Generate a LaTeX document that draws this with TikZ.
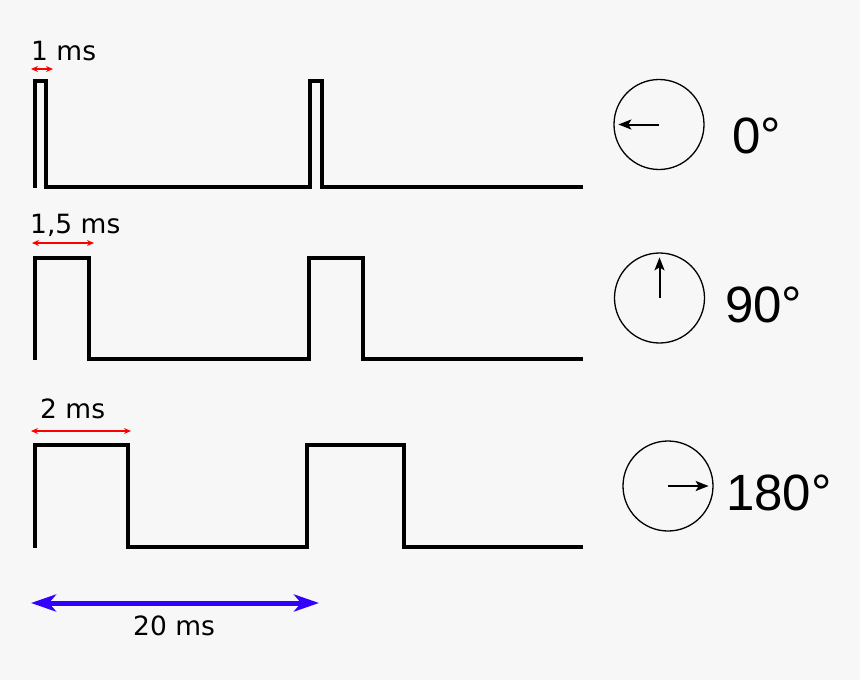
\documentclass[tikz,border=0pt]{standalone}
\usepackage{fontspec}
\setmainfont{DejaVu Sans}
\newfontfamily\degfont{Liberation Sans}
\usetikzlibrary{arrows.meta}
\definecolor{bgcol}{HTML}{F7F7F7}
\definecolor{pwmblue}{HTML}{3300FF}
\tikzset{
  wave/.style={line width=4pt, line join=miter},
  dial/.style={draw, circle, line width=1.3pt, minimum size=90pt, inner sep=0pt},
  hand/.style={line width=2pt, -{Stealth[length=13pt,width=10pt,inset=3pt]}, shorten >=5pt},
  tlabel/.style={anchor=base west, inner sep=0pt, font=\fontsize{26.5}{30}\selectfont},
  dlabel/.style={anchor=base west, inner sep=0pt, font=\degfont\fontsize{51}{60}\selectfont},
  redarr/.style={red, line width=1.3pt, {Stealth[length=7pt,width=6pt]}-{Stealth[length=7pt,width=6pt]}}
}
\begin{document}
\begin{tikzpicture}[x=1pt, y=-1pt, line cap=butt]
				\fill[bgcol] (0,0) rectangle (860,680);
				\useasboundingbox (0,0) rectangle (860,680);
				% signals
				\foreach \top/\bot/\wa/\sa/\sb in {81/187/46/309.5/322, 258/359/89/309/363, 445/547/128/307/404}
					\draw[wave] (35,\bot+1) -- (35,\top) -- (\wa,\top) -- (\wa,\bot) -- (\sa,\bot) -- (\sa,\top) -- (\sb,\top) -- (\sb,\bot) -- (583,\bot);
				% pulse widths
				\node[tlabel] (t1) at (31,60) {1 ms};
				\node[tlabel] (t2) at (30,233) {1,5 ms};
				\node[tlabel] (t3) at (40,418) {2 ms};
				\coordinate (w1a) at (31,69);  \coordinate (w1b) at (53,69);
				\coordinate (w2a) at (32,243); \coordinate (w2b) at (94,243);
				\coordinate (w3a) at (31,431); \coordinate (w3b) at (131,431);
				\foreach \i in {1,2,3} \draw[redarr] (w\i a) -- (w\i b);
				% period
				\coordinate (pa) at (31,603); \coordinate (pb) at (319,603);
				\draw[pwmblue, line width=5pt, {Stealth[length=25pt,width=17pt,inset=7pt]}-{Stealth[length=25pt,width=17pt,inset=7pt]}] (pa) -- (pb);
				\node[tlabel] (tp) at (133,635) {20 ms};
				% servo dials
				\node[dial] (c1) at (659,124.5) {};
				\node[dial] (c2) at (659.5,298) {};
				\node[dial] (c3) at (668,486) {};
				\draw[hand] (c1.center) -- (c1.west);
				\draw[hand] (c2.center) -- (c2.north);
				\draw[hand] (c3.center) -- (c3.east);
				\node[dlabel] (d1) at (732,153) {0°};
				\node[dlabel] (d2) at (725,322) {90°};
				\node[dlabel] (d3) at (726,510) {180°};
			\end{tikzpicture}
\end{document}
